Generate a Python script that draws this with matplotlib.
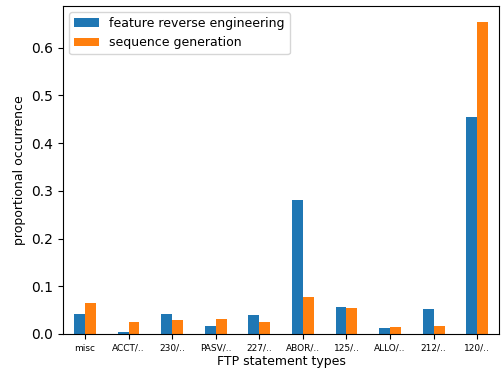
import numpy as np
import pandas as pd
import matplotlib
matplotlib.use('Agg')
import matplotlib.pyplot as plt

categories = ['misc', 'ACCT/..', '230/..', 'PASV/..', '227/..', 'ABOR/..', '125/..', 'ALLO/..', '212/..', '120/..']
feature_rev = [0.042, 0.004, 0.041, 0.017, 0.040, 0.281, 0.056, 0.013, 0.052, 0.454]
seq_gen = [0.065, 0.026, 0.030, 0.032, 0.025, 0.078, 0.054, 0.015, 0.017, 0.655]

df = pd.DataFrame({'feature reverse engineering': feature_rev,
                   'sequence generation': seq_gen}, index=categories)

fig, ax = plt.subplots(figsize=(5.01, 3.69), dpi=100)
df.plot.bar(ax=ax, rot=0)
ax.tick_params(axis='x', labelsize=6.5)
ax.set_xlabel('FTP statement types', fontsize=9, labelpad=2)
ax.set_ylabel('proportional occurrence', fontsize=9)
ax.legend(loc='upper left', fontsize=9)
fig.subplots_adjust(left=0.126, right=0.996, top=0.984, bottom=0.095)
fig.savefig('out.png')
